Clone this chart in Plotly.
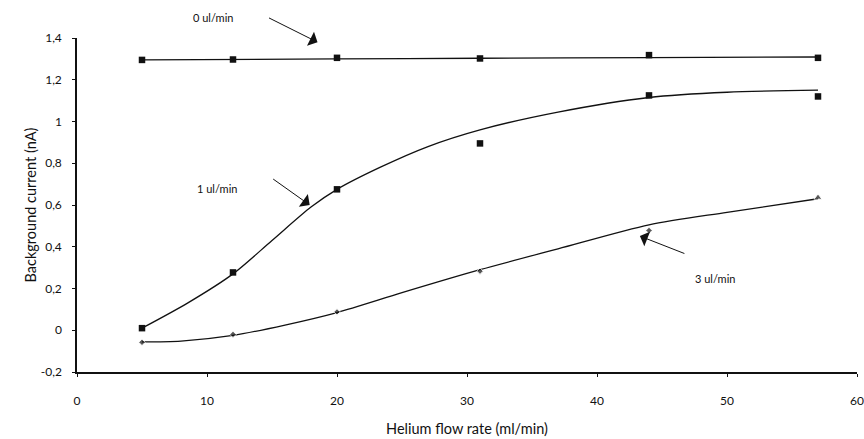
import plotly.graph_objects as go

# Measured points
flow = [5, 12, 20, 31, 44, 57]
bg_0ul = [1.295, 1.297, 1.305, 1.302, 1.318, 1.305]
bg_1ul = [0.01, 0.277, 0.675, 0.895, 1.125, 1.12]
bg_3ul = [-0.058, -0.02, 0.088, 0.283, 0.478, 0.636]

# Fitted trend curves
fit0_x = [5, 20, 31, 44, 57]
fit0_y = [1.295, 1.300, 1.303, 1.306, 1.309]
fit1_x = [5, 8.5, 12, 15, 18, 20, 23.3, 27, 31, 37, 44, 50, 57]
fit1_y = [0.01, 0.13, 0.27, 0.43, 0.59, 0.675, 0.78, 0.88, 0.96, 1.045, 1.115, 1.14, 1.15]
fit3_x = [5, 8, 12, 16, 20, 25, 31, 37, 44, 50, 57]
fit3_y = [-0.056, -0.052, -0.025, 0.025, 0.085, 0.18, 0.29, 0.39, 0.505, 0.565, 0.63]

x_ticks = [0, 10, 20, 30, 40, 50, 60]
y_ticks = [-0.2, 0, 0.2, 0.4, 0.6, 0.8, 1, 1.2, 1.4]
y_tick_text = ["-0,2", "0", "0,2", "0,4", "0,6", "0,8", "1", "1,2", "1,4"]

series_labels = ["0 ul/min", "1 ul/min", "3 ul/min"]

font_family = "Lato, Open Sans, sans-serif"
ink = "#111111"

fig = go.Figure()

for fx, fy in ((fit0_x, fit0_y), (fit1_x, fit1_y), (fit3_x, fit3_y)):
    fig.add_trace(go.Scatter(x=fx, y=fy, mode="lines",
                             line=dict(color=ink, width=1.3, shape="spline", smoothing=0.8),
                             hoverinfo="skip", showlegend=False))

fig.add_trace(go.Scatter(x=flow, y=bg_0ul, mode="markers", name=series_labels[0],
                         marker=dict(symbol="square", size=6.5, color=ink), showlegend=False))
fig.add_trace(go.Scatter(x=flow, y=bg_1ul, mode="markers", name=series_labels[1],
                         marker=dict(symbol="square", size=6.5, color=ink), showlegend=False))
fig.add_trace(go.Scatter(x=flow, y=bg_3ul, mode="markers", name=series_labels[2],
                         marker=dict(symbol=["diamond"] * 5 + ["triangle-up"], size=[5] * 5 + [7], color=ink),
                         showlegend=False))

# Series labels
fig.add_annotation(x=10.46, y=1.087, yref="paper", text=series_labels[0], showarrow=False,
                   font=dict(family=font_family, size=11, color=ink))
fig.add_annotation(x=10.77, y=0.677, text=series_labels[1], showarrow=False,
                   font=dict(family=font_family, size=11, color=ink))
fig.add_annotation(x=49.1, y=0.25, text=series_labels[2], showarrow=False,
                   font=dict(family=font_family, size=11, color=ink))

# Arrows (tip at triangle, tail offset in px)
for tx, ty, ax, ay in [(18.5, 1.38, -50, -25), (17.9, 0.60, -38, -27), (43.3, 0.451, 46, 18)]:
    fig.add_annotation(x=tx, y=ty, ax=ax, ay=ay, text="", showarrow=True,
                       arrowhead=1, arrowsize=2.6, arrowwidth=1, arrowcolor=ink)

fig.update_layout(
    width=864, height=439,
    margin=dict(l=77, r=7, t=38, b=67),
    paper_bgcolor="white", plot_bgcolor="white",
    font=dict(family=font_family, size=12, color=ink),
    showlegend=False,
)
fig.update_xaxes(range=[0, 60], tickvals=x_ticks, showgrid=False, zeroline=False, automargin=False,
                 showline=True, linecolor=ink, linewidth=1.5, ticks="outside", ticklen=3,
                 tickcolor=ink, ticklabelstandoff=14, ticklabeloverflow="allow",
                 title=dict(text="Helium flow rate (ml/min)", standoff=17, font=dict(size=14.5)))
fig.update_yaxes(range=[-0.2, 1.4], tickvals=y_ticks, ticktext=y_tick_text, showgrid=False, zeroline=False,
                 automargin=False,
                 showline=True, linecolor=ink, linewidth=1.5, ticks="outside", ticklen=3,
                 tickcolor=ink, ticklabelstandoff=8,
                 title=dict(text="Background current (nA)", standoff=1, font=dict(size=14.5)))

# Remove the default page margin so the figure fills the window exactly
fig.write_html("out.html", config={"displayModeBar": False},
               post_script="document.body.style.margin='0';document.body.style.overflow='hidden';")
